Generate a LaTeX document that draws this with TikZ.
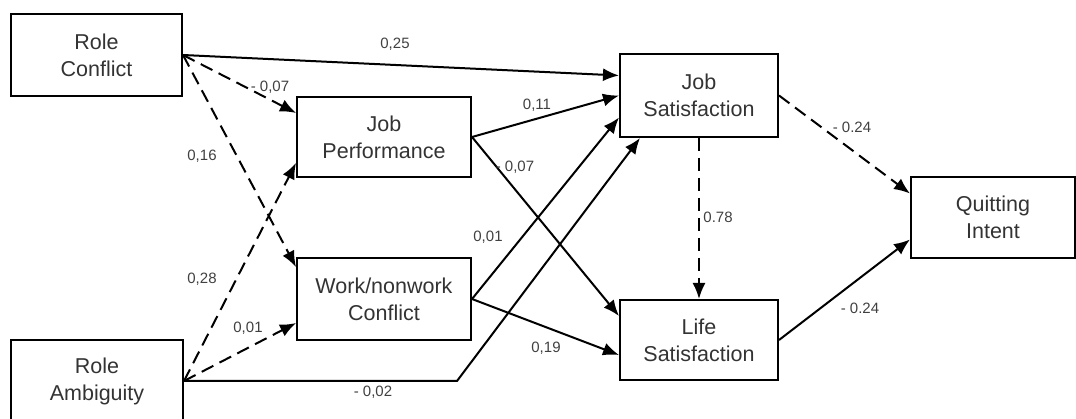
\documentclass[tikz,border=0pt]{standalone}
\usepackage{fontspec}
\setmainfont{Liberation Sans}
\usetikzlibrary{arrows.meta}

\begin{document}
\begin{tikzpicture}[x=1pt,y=-1pt,
	var/.style={draw, line width=2pt, align=center, inner sep=0pt,
		font=\fontsize{21.5}{27}\selectfont, text=black!80},
	path/.style={line width=2pt, -{Latex[length=16pt,width=13pt]}},
	weak/.style={path, dash pattern=on 13pt off 7pt},
	coef/.style={font=\fontsize{15}{18}\selectfont, text=black!75}]
			
			% Fix the size of the picture
			\useasboundingbox (0,0) rectangle (1076,419);
			
			% Draw the boxes
			\node[var, minimum width=171pt, minimum height=82pt] (rc) at (96.5,55) {Role\\Conflict};
			\node[var, minimum width=172pt, minimum height=82pt] (ra) at (97,381) {Role\\Ambiguity};
			\node[var, minimum width=174pt, minimum height=80pt] (jp) at (384,137) {Job\\Performance};
			\node[var, minimum width=174pt, minimum height=82pt] (wn) at (384,299) {Work/nonwork\\Conflict};
			\node[var, minimum width=158pt, minimum height=83pt] (js) at (699,95.5) {Job\\Satisfaction};
			\node[var, minimum width=158pt, minimum height=80pt] (ls) at (699,340) {Life\\Satisfaction};
			\node[var, minimum width=164pt, minimum height=81pt] (qi) at (993,217.5) {Quitting\\Intent};
			
			% Draw the paths from the role variables
			\draw[path] (rc.east) -- ([yshift=20pt]js.west);
			\draw[weak] (rc.east) -- ([yshift=24pt]jp.west);
			\draw[weak] (rc.east) -- ([yshift=-10pt]wn.north west);
			\draw[weak] (ra.east) -- ([yshift=15pt]jp.south west);
			\draw[weak] (ra.east) -- ([yshift=-24pt]wn.west);
			\coordinate (kink) at (457,381);
			\draw[path] (ra.east) -- (kink) -- ([xshift=21pt]js.south west);
			
			% Draw the paths in the middle
			\draw[path] (jp.east) -- (js.west);
			\draw[path] (jp.east) -- ([yshift=24pt]ls.west);
			\draw[path] (wn.east) -- ([yshift=-22pt]js.west);
			\draw[path] (wn.east) -- ([yshift=-15pt]ls.west);
			\draw[weak] (js.south) -- (ls.north);
			
			% Draw the paths to quitting intent
			\draw[weak] (js.east) -- ([yshift=24pt]qi.west);
			\draw[path] (ls.east) -- ([yshift=-22pt]qi.west);
			
			% Draw the coefficients
			\node[coef] at (395,44) {0,25};
			\node[coef] at (270,87) {- 0,07};
			\node[coef] at (202,156) {0,16};
			\node[coef] at (202,279) {0,28};
			\node[coef] at (248,328) {0,01};
			\node[coef] at (373,392) {- 0,02};
			\node[coef] at (537,105) {0,11};
			\node[coef] at (515,167) {- 0,07};
			\node[coef] at (488,237) {0,01};
			\node[coef] at (546,348) {0,19};
			\node[coef] at (718,217) {0.78};
			\node[coef] at (852,127) {- 0.24};
			\node[coef] at (860,308) {- 0.24};
		\end{tikzpicture}
\end{document}
